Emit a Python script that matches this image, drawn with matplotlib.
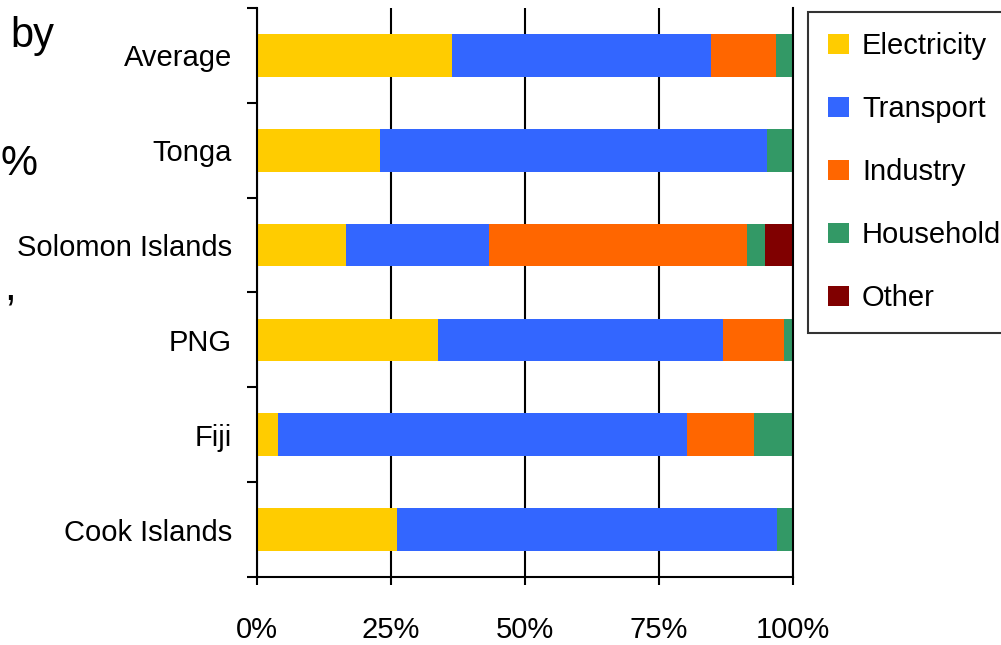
import matplotlib.pyplot as plt
import numpy as np
from matplotlib.ticker import FixedLocator

plt.rcParams['font.family'] = ['Liberation Sans', 'DejaVu Sans']

countries = ['Cook Islands', 'Fiji', 'PNG', 'Solomon Islands', 'Tonga', 'Average']
electricity = [26.2, 3.9, 33.8, 16.6, 22.9, 36.4]
transport = [70.8, 76.4, 53.2, 26.7, 72.3, 48.3]
industry = [0.0, 12.5, 11.3, 48.2, 0.0, 12.2]
household = [3.0, 7.2, 1.7, 3.2, 4.8, 3.1]
other = [0.0, 0.0, 0.0, 5.3, 0.0, 0.0]

series = [('Electricity', electricity, '#FFCC00'),
          ('Transport', transport, '#3366FF'),
          ('Industry', industry, '#FF6600'),
          ('Household', household, '#339966'),
          ('Other', other, '#800000')]

fig = plt.figure(figsize=(10.01, 6.45), dpi=100)
ax = fig.add_axes([257/1001, 1 - 577/645, (793 - 257)/1001, (577 - 8)/645])

y = np.arange(len(countries))
left = np.zeros(len(countries))
for name, vals, col in series:
    vals = np.array(vals)
    ax.barh(y, vals, left=left, height=0.45, color=col, label=name, zorder=2)
    left += vals

ax.set_xlim(0, 100)
ax.set_ylim(-0.5, len(countries) - 0.5)

ax.set_xticks([0, 25, 50, 75, 100])
ax.set_xticklabels(['0%', '25%', '50%', '75%', '100%'], fontsize=21)
ax.set_yticks(y)
ax.set_yticklabels(countries, fontsize=21)
ax.yaxis.set_minor_locator(FixedLocator(np.arange(-0.5, len(countries), 1)))

ax.tick_params(axis='y', which='major', length=0, pad=18)
ax.tick_params(axis='y', which='minor', length=7, width=1.5, direction='out')
ax.tick_params(axis='x', length=6, width=1.5, direction='out', pad=22)

ax.xaxis.grid(True, color='black', linewidth=1.5)
ax.set_axisbelow(True)

ax.spines['top'].set_visible(False)
for s in ['left', 'bottom', 'right']:
    ax.spines[s].set_linewidth(1.5)

leg = fig.legend(loc='upper left', bbox_to_anchor=(808/1001, 1 - 12/645),
                 fontsize=21, frameon=True, fancybox=False, edgecolor='black',
                 handlelength=0.7, handleheight=0.7, handletextpad=0.45,
                 labelspacing=1.2, borderpad=0.7, borderaxespad=0)
leg.get_frame().set_linewidth(1.5)

# fragments of the slide title cut off at the left edge
fig.text(10/1001, 1 - 47/645, 'by', fontsize=30)
fig.text(1/1001, 1 - 175/645, '%', fontsize=30)
fig.text(4/1001, 1 - 300/645, ',', fontsize=30)

plt.savefig('out.png', dpi=100)
